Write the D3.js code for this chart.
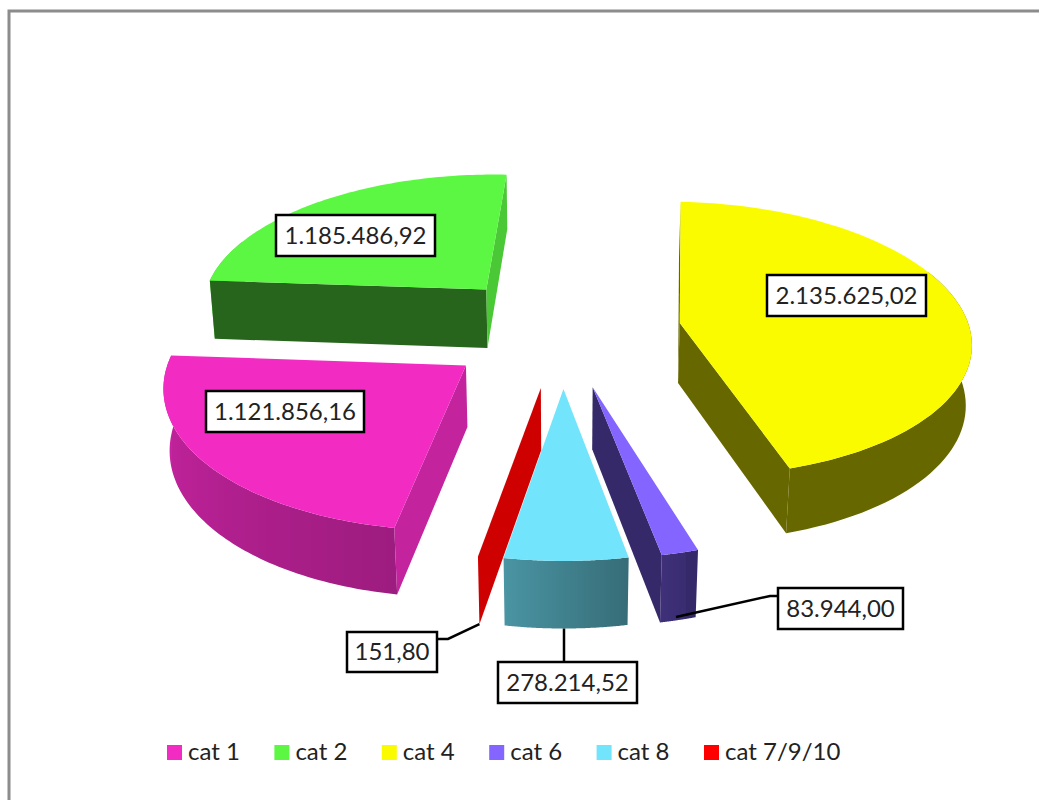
<!doctype html>
<html lang="en">
<head>
<meta charset="utf-8">
<title>3D pie</title>
<style>
  html, body { margin: 0; padding: 0; background: #fff; overflow: hidden; }
  text { font-family: Lato, sans-serif; fill: #222; }
</style>
<script src="https://d3js.org/d3.v7.min.js"></script>
</head>
<body>
<script>
// chart data
var categories = ["cat 1", "cat 2", "cat 4", "cat 6", "cat 8", "cat 7/9/10"];
var values = [1121856.16, 1185486.92, 2135625.02, 83944.00, 278214.52, 151.80];
var valueLabels = ["1.121.856,16", "1.185.486,92", "2.135.625,02", "83.944,00", "278.214,52", "151,80"];
var colors = ["#f22bc3", "#5cf742", "#fbfb00", "#8465ff", "#72e4fb", "#ff0000"];

var width = 1039, height = 800;

// fake 3d camera
var cx = 562.5, cy = 330, rx = 290, ry = 137;
var persp = 0.116, depth = 61, depthPersp = 0.015, explode = 0.41;
var firstAngle = 190 * Math.PI / 180;

var svg = d3.select("body").append("svg")
  .attr("width", width)
  .attr("height", height);
var defs = svg.append("defs");

// frame
svg.append("path")
  .attr("d", "M9," + height + "V11H" + width)
  .attr("fill", "none")
  .attr("stroke", "#8c8c8c")
  .attr("stroke-width", 3);

function project(x, y, low) {
  var w = 1 / (1 - persp * y + (low ? depthPersp : 0));
  return [cx + rx * x * w, cy + (ry * y + (low ? depth : 0)) * w];
}

var line = d3.line();

var pie = d3.pie().sort(null)
  .startAngle(firstAngle)
  .endAngle(firstAngle + 2 * Math.PI);

var slices = pie(values).map(function(d, i) {
  var mid = (d.startAngle + d.endAngle) / 2;
  return {
    i: i,
    a0: d.startAngle,
    a1: d.endAngle,
    ox: explode * Math.sin(mid),
    oy: -explode * Math.cos(mid)
  };
});

// rim point of a slice at angle a
function rim(s, a, low) {
  return project(s.ox + Math.sin(a), s.oy - Math.cos(a), low);
}
function apex(s, low) {
  return project(s.ox, s.oy, low);
}

// brightness of the outer wall, darker towards the right-front
function rimShade(a) {
  var deg = (a * 180 / Math.PI) % 360;
  if (deg < 165) return 0.41;
  if (deg < 190) return 0.44 + (deg - 165) / 25 * 0.21;
  return 0.65 + Math.min(deg - 190, 90) / 84 * 0.2;
}
function shade(col, k) {
  var c = d3.rgb(col);
  return d3.rgb(c.r * k, c.g * k, c.b * k).formatHex();
}

// back slices first
var order = slices.slice().sort(function(a, b) { return d3.ascending(a.oy, b.oy); });

var pieG = svg.append("g");

order.forEach(function(s) {
  var col = colors[s.i];
  var g = pieG.append("g");
  var angles = d3.range(0, 81).map(function(k) { return s.a0 + (s.a1 - s.a0) * k / 80; });

  // outer wall, runs a bit past the sides, the top face covers the rest
  var front = angles.filter(function(a) { return Math.cos(a) < 0.4; });
  if (front.length > 1 && s.a1 - s.a0 > 0.01) {
    var x1 = rim(s, front[0])[0], x2 = rim(s, front[front.length - 1])[0];
    var stops = front.map(function(a) {
      return { off: (rim(s, a)[0] - x1) / (x2 - x1), col: shade(col, rimShade(a)) };
    }).sort(function(a, b) { return d3.ascending(a.off, b.off); });
    var grad = defs.append("linearGradient")
      .attr("id", "wall" + s.i)
      .attr("gradientUnits", "userSpaceOnUse")
      .attr("x1", x1).attr("x2", x2)
      .attr("y1", 0).attr("y2", 0);
    grad.selectAll("stop")
      .data(stops)
      .enter().append("stop")
      .attr("offset", function(d) { return d.off; })
      .attr("stop-color", function(d) { return d.col; });
    var top = front.map(function(a) { return rim(s, a); });
    var bottom = front.map(function(a) { return rim(s, a, true); }).reverse();
    g.append("path")
      .attr("d", line(top.concat(bottom)) + "Z")
      .attr("fill", "url(#wall" + s.i + ")");
  }

  // the two cut faces, skip the ones turned away
  [s.a0, s.a1].forEach(function(a, k) {
    var pts = [apex(s), rim(s, a), rim(s, a, true), apex(s, true)];
    var area = d3.polygonArea(pts); // d3 sign: positive when a0 face shows
    if ((k === 0 && area <= 0) || (k === 1 && area >= 0)) return;
    var normal = k === 0 ? a - Math.PI / 2 : a + Math.PI / 2;
    g.append("path")
      .attr("d", line(pts) + "Z")
      .attr("fill", shade(col, Math.sin(normal) > 0 ? 0.81 : 0.41));
  });

  // top face
  var rimTop = angles.map(function(a) { return rim(s, a); });
  g.append("path")
    .attr("d", line([apex(s)].concat(rimTop)) + "Z")
    .attr("fill", col);
});

// leader lines, starting on the slices
var s7 = slices[5], s8 = slices[4];
var leaders = [
  [rim(s7, s7.a0, true), [448, 639], [437, 639]],
  [[564, rim(s8, (s8.a0 + s8.a1) / 2, true)[1]], [564, 662]],
  [[676, 617], [770, 596], [778, 596]]
];
svg.selectAll("path.leader")
  .data(leaders)
  .enter().append("path")
  .attr("class", "leader")
  .attr("d", function(d) { return line(d); })
  .attr("fill", "none")
  .attr("stroke", "#000")
  .attr("stroke-width", 2.5);

// value labels, boxes as left, top, right, bottom
var labelBoxes = [
  [206, 391, 364, 432],
  [276, 215, 435, 256],
  [767, 275, 926, 316],
  [778, 588, 903, 629],
  [498, 662, 637, 703],
  [347, 632, 437, 672]
];
var labels = svg.selectAll("g.label")
  .data(valueLabels)
  .enter().append("g")
  .attr("class", "label");
labels.append("rect")
  .attr("x", function(d, i) { return labelBoxes[i][0]; })
  .attr("y", function(d, i) { return labelBoxes[i][1]; })
  .attr("width", function(d, i) { return labelBoxes[i][2] - labelBoxes[i][0]; })
  .attr("height", function(d, i) { return labelBoxes[i][3] - labelBoxes[i][1]; })
  .attr("fill", "#fff")
  .attr("stroke", "#000")
  .attr("stroke-width", 2.5);
labels.append("text")
  .attr("x", function(d, i) { return (labelBoxes[i][0] + labelBoxes[i][2]) / 2; })
  .attr("y", function(d, i) { return (labelBoxes[i][1] + labelBoxes[i][3]) / 2 + 8; })
  .attr("text-anchor", "middle")
  .attr("font-size", 24)
  .text(function(d) { return d; });

// legend
var legend = svg.selectAll("g.legend")
  .data(categories)
  .enter().append("g")
  .attr("class", "legend")
  .attr("transform", function(d, i) { return "translate(" + (167 + i * 107.4) + ",745)"; });
legend.append("rect")
  .attr("width", 15)
  .attr("height", 15)
  .attr("fill", function(d, i) { return colors[i]; });
legend.append("text")
  .attr("x", 21)
  .attr("y", 15)
  .attr("font-size", 24)
  .text(function(d) { return d; });
</script>
</body>
</html>
